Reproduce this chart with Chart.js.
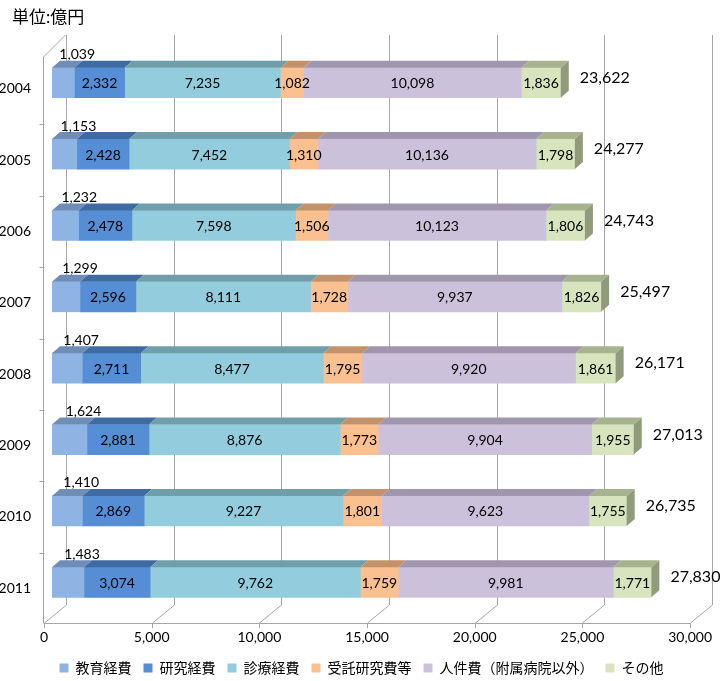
<!DOCTYPE html>
<html>
<head>
<meta charset="utf-8">
<script src="https://cdn.jsdelivr.net/npm/chart.js@4.4.1/dist/chart.umd.min.js"></script>
<style>
    html, body { margin: 0; padding: 0; background: #fff; }
    #wrap { width: 723px; height: 681px; }
</style>
</head>
<body>
<div id="wrap"><canvas id="costChart"></canvas></div>
<script>
// データ (単位: 億円)
const years = ['2004', '2005', '2006', '2007', '2008', '2009', '2010', '2011'];
const seriesNames = ['教育経費', '研究経費', '診療経費', '受託研究費等', '人件費（附属病院以外）', 'その他'];
const kyoiku   = [1039, 1153, 1232, 1299, 1407, 1624, 1410, 1483];
const kenkyu   = [2332, 2428, 2478, 2596, 2711, 2881, 2869, 3074];
const shinryo  = [7235, 7452, 7598, 8111, 8477, 8876, 9227, 9762];
const jutaku   = [1082, 1310, 1506, 1728, 1795, 1773, 1801, 1759];
const jinken   = [10098, 10136, 10123, 9937, 9920, 9904, 9623, 9981];
const sonota   = [1836, 1798, 1806, 1826, 1861, 1955, 1755, 1771];
const totals   = [23622, 24277, 24743, 25497, 26171, 27013, 26735, 27830];
const xTicks   = [0, 5000, 10000, 15000, 20000, 25000, 30000];

// 色 (前面 / 上面)
const frontColors = ['#8EB4E3', '#558ED5', '#93CDDD', '#FAC090', '#CCC1DA', '#D7E4BD'];
const topColors   = ['#6F8DB6', '#3F6BA3', '#6E9FAB', '#C3926B', '#A096AD', '#A7B28F'];
const SIDE_COLOR = '#8F9B7B';

const FONT = 'Lato, "Noto Sans CJK JP", sans-serif';
const BAR_SHIFT = 8;      // 棒の奥行き位置
const DEPTH_X = 8, DEPTH_Y = 7;
const WALL_X = 22, WALL_Y = 18;
const GRID = '#A6A6A6';

const fmt = v => v.toLocaleString('en-US');

// 3D風の枠・上面・ラベル
const bar3dPlugin = {
    id: 'bar3d',
    beforeDatasetsDraw(chart) {
        const ctx = chart.ctx;
        const area = chart.chartArea;
        const xs = chart.scales.x;
        const floorY = area.bottom + 5;
        const topY = area.top - 12;

        ctx.save();
        ctx.strokeStyle = GRID;
        ctx.lineWidth = 1;
        ctx.beginPath();
        // 奥の目盛線と床
        xTicks.forEach(v => {
            const fx = Math.round(xs.getPixelForValue(v)) + 0.5;
            const bx = fx + WALL_X;
            ctx.moveTo(bx, topY);
            ctx.lineTo(bx, floorY - WALL_Y);
            ctx.lineTo(fx, floorY);
            ctx.moveTo(fx, floorY);
            ctx.lineTo(fx, floorY + 5);
        });
        // 床の前端
        const x0 = Math.round(area.left) - 0.5;
        ctx.moveTo(x0, floorY + 0.5);
        ctx.lineTo(Math.round(xs.getPixelForValue(30000)) + 0.5, floorY + 0.5);
        // 左の壁
        ctx.moveTo(x0, floorY);
        ctx.lineTo(x0, topY + WALL_Y + 4);
        ctx.lineTo(x0 + WALL_X, topY);
        // 左の壁の目盛
        const band = (area.bottom - area.top) / years.length;
        for (let i = 1; i < years.length; i++) {
            const y = Math.round(area.top + band * i + 6) + 0.5;
            ctx.moveTo(x0 - 4, y);
            ctx.lineTo(x0 + 1, y);
        }
        ctx.stroke();
        ctx.restore();

        ctx.save();
        ctx.translate(BAR_SHIFT, 0);
    },
    afterDatasetsDraw(chart) {
        const ctx = chart.ctx;
        const n = chart.data.datasets.length;

        // 上面と側面
        for (let d = 0; d < n; d++) {
            const meta = chart.getDatasetMeta(d);
            meta.data.forEach(bar => {
                const p = bar.getProps(['x', 'y', 'base', 'height'], true);
                const top = p.y - p.height / 2;
                ctx.fillStyle = topColors[d];
                ctx.beginPath();
                ctx.moveTo(p.base, top);
                ctx.lineTo(p.x, top);
                ctx.lineTo(p.x + DEPTH_X, top - DEPTH_Y);
                ctx.lineTo(p.base + DEPTH_X, top - DEPTH_Y);
                ctx.closePath();
                ctx.fill();
                if (d === n - 1) {
                    ctx.fillStyle = SIDE_COLOR;
                    ctx.beginPath();
                    ctx.moveTo(p.x, top);
                    ctx.lineTo(p.x + DEPTH_X, top - DEPTH_Y);
                    ctx.lineTo(p.x + DEPTH_X, top + p.height - DEPTH_Y);
                    ctx.lineTo(p.x, top + p.height);
                    ctx.closePath();
                    ctx.fill();
                }
            });
        }

        // 値ラベル
        ctx.fillStyle = '#000';
        ctx.textBaseline = 'middle';
        ctx.textAlign = 'center';
        ctx.font = '14px ' + FONT;
        for (let d = 0; d < n; d++) {
            const meta = chart.getDatasetMeta(d);
            const values = chart.data.datasets[d].data;
            meta.data.forEach((bar, i) => {
                const p = bar.getProps(['x', 'y', 'base', 'height'], true);
                const cx = (p.x + p.base) / 2;
                if (d === 0) {
                    // 教育経費は棒の上に表示
                    ctx.fillText(fmt(values[i]), cx + 14, p.y - p.height / 2 - 13);
                } else {
                    ctx.fillText(fmt(values[i]), cx, p.y + 1);
                }
            });
        }

        // 合計
        ctx.font = '16px ' + FONT;
        ctx.textAlign = 'left';
        const last = chart.getDatasetMeta(n - 1);
        last.data.forEach((bar, i) => {
            const p = bar.getProps(['x', 'y'], true);
            ctx.fillText(fmt(totals[i]), p.x + DEPTH_X + 11, p.y - 5);
        });
        ctx.restore();

        // 単位
        ctx.save();
        ctx.fillStyle = '#000';
        ctx.font = '17px ' + FONT;
        ctx.textAlign = 'left';
        ctx.textBaseline = 'middle';
        ctx.fillText('単位:億円', 12, 18);
        ctx.restore();
    }
};

const seriesData = [kyoiku, kenkyu, shinryo, jutaku, jinken, sonota];

new Chart(document.getElementById('costChart'), {
    type: 'bar',
    data: {
        labels: years,
        datasets: seriesNames.map((name, i) => ({
            label: name,
            data: seriesData[i],
            backgroundColor: frontColors[i],
            borderWidth: 0,
            barThickness: 30
        }))
    },
    options: {
        indexAxis: 'y',
        responsive: true,
        maintainAspectRatio: false,
        animation: false,
        devicePixelRatio: 1,
        layout: { padding: { top: 47, right: 0, bottom: -4, left: 0 } },
        scales: {
            x: {
                stacked: true,
                min: 0,
                max: 30000,
                grid: { display: false, drawTicks: false },
                border: { display: false },
                afterBuildTicks: axis => { axis.ticks = xTicks.map(v => ({ value: v })); },
                afterFit: axis => { axis.height = 31; },
                ticks: {
                    padding: 11,
                    color: '#000',
                    maxRotation: 0,
                    font: { family: FONT, size: 14 },
                    callback: v => fmt(v)
                }
            },
            y: {
                stacked: true,
                grid: { display: false, drawTicks: false },
                border: { display: false },
                afterFit: axis => { axis.width = 44; },
                ticks: {
                    color: '#000',
                    padding: 13,
                    labelOffset: 6,
                    font: { family: FONT, size: 14 }
                }
            }
        },
        plugins: {
            legend: {
                position: 'bottom',
                labels: {
                    boxWidth: 9,
                    boxHeight: 9,
                    padding: 12,
                    color: '#000',
                    font: { family: FONT, size: 14 }
                }
            },
            tooltip: { enabled: false }
        }
    },
    plugins: [bar3dPlugin]
});
</script>
</body>
</html>
